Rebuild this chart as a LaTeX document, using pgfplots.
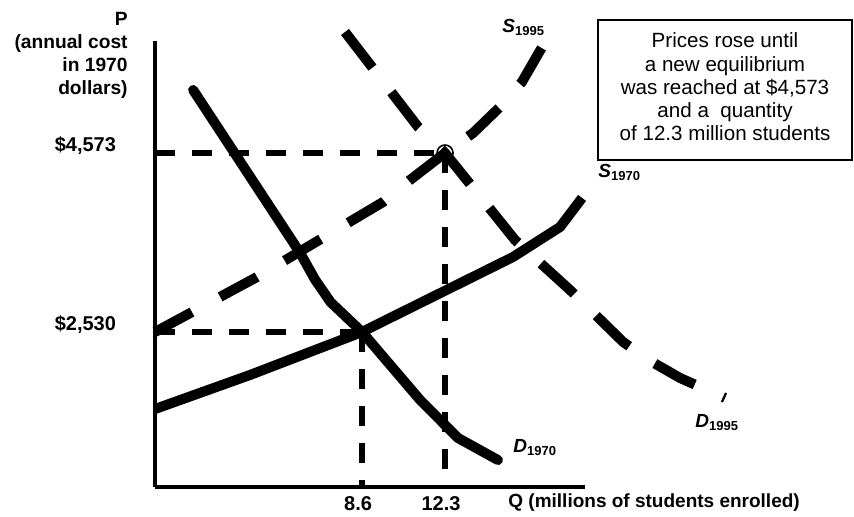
\documentclass[border=0pt]{standalone}
\usepackage{fontspec}
\setmainfont{Liberation Sans}
\usepackage{pgfplots}
\pgfplotsset{compat=1.18}

\pgfplotstableread{
x y
1.07 5292
5.84 3432
6.50 3130
7.20 2870
8.60 2530
11.19 1754
12.88 1320
14.66 1069
}\dA

\pgfplotstableread{
x y
-0.63 1651
3.61 2040
8.60 2530
9.85 2690
15.33 3386
17.43 3729
18.41 4060
}\sA

\pgfplotstableread{
x y
-0.63 2530
3.92 3158
9.54 4014
10.74 4265
12.30 4573
13.55 4801
14.75 5098
15.73 5384
16.63 5783
}\sB

\pgfplotstableread{
x y
7.84 5954
11.10 4870
12.30 4573
15.42 3580
17.87 3010
20.24 2416
21.53 2188
22.78 2005
24.78 1777
}\dB

\begin{document}
\begin{tikzpicture}
\useasboundingbox (0,0) rectangle (427pt,258pt);
\begin{axis}[
  scale only axis, width=215pt, height=223pt,
  at={(77.5pt,14.5pt)}, anchor=south west,
  xmin=-0.63, xmax=18.54, ymin=761, ymax=5851,
  axis x line=bottom, axis y line=left,
  axis line style={-, line width=2pt},
  clip=false,
  xtick={8.6,12.3}, xticklabels={{\textbf{8.6}},{\textbf{12.3}}},
  ytick={2530,4573}, yticklabels={{\textbf{\$2,530}},{\textbf{\$4,573}}},
  major tick length=0pt,
  tick label style={font=\fontsize{10}{12}\selectfont},
  yticklabel style={xshift=-16pt, yshift=3.5pt},
  xticklabel style={xshift=-2pt, yshift=-1pt},
]
% guide lines
\addplot[line width=3pt, dash pattern=on 10pt off 8.5pt] coordinates {(-0.63,4573) (12.3,4573)};
\addplot[line width=3pt, dash pattern=on 10pt off 8.5pt] coordinates {(12.3,4573) (12.3,761)};
\addplot[line width=3pt, dash pattern=on 10pt off 8.5pt] coordinates {(-0.63,2530) (8.6,2530)};
\addplot[line width=3pt, dash pattern=on 10pt off 8.5pt] coordinates {(8.6,2530) (8.6,761)};
% curves
\addplot[line width=5pt, line cap=round, line join=round] table[x=x,y=y] {\dA};
\addplot[line width=5pt, line join=round] table[x=x,y=y] {\sA};
\addplot[line width=5pt, line join=round, dash pattern=on 21pt off 16pt] table[x=x,y=y] {\sB};
\addplot[line width=5pt, line join=round, dash pattern=on 22.5pt off 15.5pt] table[x=x,y=y] {\dB};
% equilibrium circle
\addplot[only marks, mark=o, mark size=4pt, mark options={line width=0.8pt}] coordinates {(12.3,4573)};
\end{axis}

% axis titles
\node[anchor=north east, inner sep=0pt, align=right, font=\bfseries\fontsize{9.6}{11.5}\selectfont]
  at (64pt,252pt) {P\\(annual cost\\in 1970\\dollars)};
\node[anchor=base west, inner sep=0pt, font=\bfseries\fontsize{9.5}{11}\selectfont]
  at (254pt,4.5pt) {Q (millions of students enrolled)};

% curve labels
\node[anchor=base west, inner sep=0pt] at (251pt,242pt)
  {\bfseries\fontsize{9.5}{11}\selectfont\itshape S\upshape\raisebox{-1.5pt}{\fontsize{6.5}{7}\selectfont 1995}};
\node[anchor=base west, inner sep=0pt] at (299pt,169.5pt)
  {\bfseries\fontsize{9.5}{11}\selectfont\itshape S\upshape\raisebox{-1.5pt}{\fontsize{6.5}{7}\selectfont 1970}};
\node[anchor=base west, inner sep=0pt] at (256.5pt,32pt)
  {\bfseries\fontsize{9.5}{11}\selectfont\itshape D\upshape\raisebox{-1.5pt}{\fontsize{6.5}{7}\selectfont 1970}};
\node[anchor=base west, inner sep=0pt] at (347.5pt,44.5pt)
  {\bfseries\fontsize{9.5}{11}\selectfont\itshape D\upshape\raisebox{-1.5pt}{\fontsize{6.5}{7}\selectfont 1995}};

% text box
\draw[line width=1pt] (299pt,248pt) rectangle (426pt,178pt);
\node[anchor=north, inner sep=0pt, align=center, font=\fontsize{10.3}{11.65}\selectfont]
  at (362.5pt,241.8pt) {Prices rose until\\a new equilibrium\\was reached at \$4,573\\and a\ \ quantity\\of 12.3 million students};
\end{tikzpicture}
\end{document}
